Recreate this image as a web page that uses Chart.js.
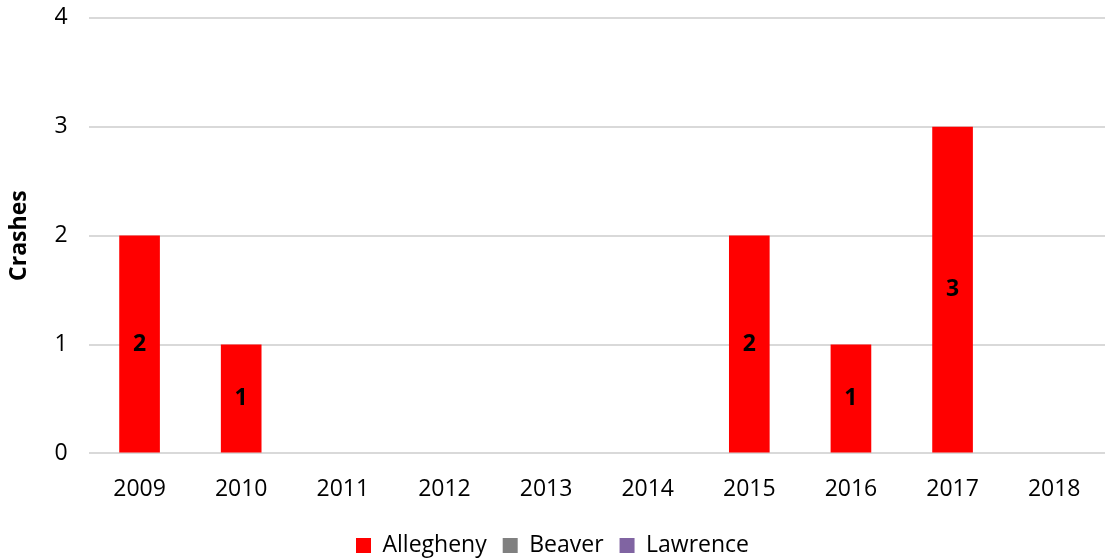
<!DOCTYPE html>
<html>
<head>
<meta charset="utf-8">
<style>
  html, body { margin: 0; padding: 0; background: #fff; overflow: hidden; }
  body { width: 1106px; height: 559px; }
  #wrap { width: 1106px; height: 586px; margin-top: -17px; }
</style>
<script src="https://cdn.jsdelivr.net/npm/chart.js@4/dist/chart.umd.min.js"></script>
</head>
<body>
<div id="wrap"><canvas id="myChart"></canvas></div>
<script>
const years = ["2009", "2010", "2011", "2012", "2013", "2014", "2015", "2016", "2017", "2018"];
const allegheny = [2, 1, 0, 0, 0, 0, 2, 1, 3, 0];
const beaver = [0, 0, 0, 0, 0, 0, 0, 0, 0, 0];
const lawrence = [0, 0, 0, 0, 0, 0, 0, 0, 0, 0];
const yTicks = [0, 1, 2, 3, 4];

const FONT = "'Open Sans', sans-serif";

// draws the value in the middle of each non-zero bar
const barLabels = {
  id: 'barLabels',
  afterDatasetsDraw(chart) {
    const ctx = chart.ctx;
    ctx.save();
    ctx.font = 'bold 23px ' + FONT;
    ctx.fillStyle = '#000';
    ctx.textAlign = 'center';
    ctx.textBaseline = 'middle';
    chart.data.datasets.forEach((ds, i) => {
      const meta = chart.getDatasetMeta(i);
      meta.data.forEach((bar, j) => {
        const v = ds.data[j];
        if (!v) return;
        ctx.fillText(String(v), bar.x, (bar.y + bar.base) / 2);
      });
    });
    ctx.restore();
  }
};

new Chart(document.getElementById('myChart'), {
  type: 'bar',
  data: {
    labels: years,
    datasets: [
      { label: 'Allegheny', data: allegheny, backgroundColor: '#ff0000' },
      { label: 'Beaver', data: beaver, backgroundColor: '#808080' },
      { label: 'Lawrence', data: lawrence, backgroundColor: '#8064a2' }
    ]
  },
  options: {
    responsive: true,
    maintainAspectRatio: false,
    animation: false,
    layout: { padding: { top: 0, right: 1, left: 0, bottom: 2 } },
    datasets: { bar: { barPercentage: 0.4, categoryPercentage: 1 } },
    plugins: {
      legend: {
        position: 'bottom',
        labels: {
          font: { family: FONT, size: 23 },
          color: '#000',
          boxWidth: 15,
          boxHeight: 15,
          padding: 16
        }
      },
      tooltip: { enabled: false }
    },
    scales: {
      x: {
        stacked: true,
        grid: { display: false },
        border: { display: false },
        ticks: { font: { family: FONT, size: 23 }, color: '#000', padding: 14.5 }
      },
      y: {
        stacked: true,
        min: 0,
        max: 4,
        afterBuildTicks(axis) { axis.ticks = yTicks.map(v => ({ value: v })); },
        grid: { color: '#d9d9d9', lineWidth: 2, drawTicks: false },
        border: { display: false },
        ticks: { font: { family: FONT, size: 23 }, color: '#000', padding: 21 },
        title: {
          display: true,
          text: 'Crashes',
          font: { family: FONT, size: 23, weight: 'bold' },
          color: '#000',
          padding: { top: 6, bottom: 0 }
        }
      }
    }
  },
  plugins: [barLabels]
});
</script>
</body>
</html>
